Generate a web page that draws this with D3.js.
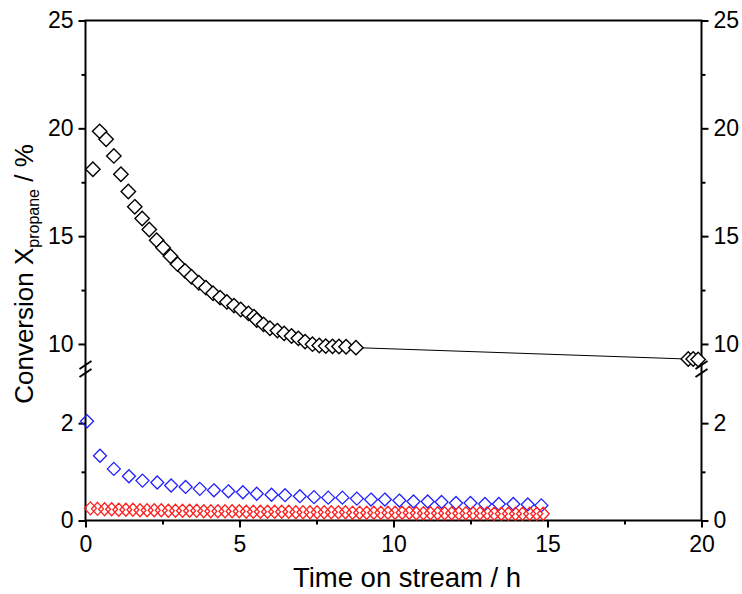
<!DOCTYPE html>
<html>
<head>
<meta charset="utf-8">
<script src="https://cdn.jsdelivr.net/npm/d3@7"></script>
<style>
  body { margin: 0; background: #fff; }
  text { font-family: "Liberation Sans", Arial, sans-serif; }
</style>
</head>
<body>
<script>
// black series (upper part of the broken axis)
const blackX = [0.24, 0.46, 0.67, 0.92, 1.15, 1.39, 1.60, 1.84, 2.07, 2.31, 2.52, 2.76, 2.99, 3.23, 3.44,
  3.68, 3.91, 4.14, 4.37, 4.59, 4.82, 5.04, 5.29, 5.47, 5.56, 5.78, 5.99, 6.23, 6.45, 6.69, 6.91, 7.13,
  7.37, 7.59, 7.80, 8.02, 8.23, 8.46, 8.78, 19.57, 19.73, 19.89];
const blackY = [18.10, 19.86, 19.49, 18.72, 17.87, 17.07, 16.36, 15.82, 15.31, 14.81, 14.46, 14.07, 13.70,
  13.39, 13.12, 12.84, 12.61, 12.35, 12.15, 11.95, 11.78, 11.60, 11.42, 11.26, 11.11, 10.91, 10.73, 10.62,
  10.49, 10.37, 10.26, 10.11, 9.99, 9.93, 9.90, 9.89, 9.88, 9.87, 9.83, 9.30, 9.30, 9.28];

// blue series
const blueX = [0.05, 0.47, 0.92, 1.41, 1.85, 2.33, 2.78, 3.25, 3.71, 4.17, 4.64, 5.11, 5.56, 6.04, 6.48,
  6.96, 7.42, 7.88, 8.34, 8.81, 9.27, 9.72, 10.19, 10.65, 11.11, 11.56, 12.03, 12.50, 12.97, 13.42,
  13.89, 14.36, 14.80];
const blueY = [2.04, 1.33, 1.06, 0.91, 0.82, 0.78, 0.72, 0.69, 0.65, 0.62, 0.60, 0.58, 0.55, 0.53, 0.52,
  0.50, 0.48, 0.47, 0.47, 0.45, 0.43, 0.43, 0.41, 0.39, 0.39, 0.38, 0.36, 0.36, 0.34, 0.34, 0.34, 0.33, 0.31];

// red series
const redX = [0.16, 0.39, 0.62, 0.85, 1.08, 1.31, 1.54, 1.77, 2.00, 2.23, 2.46, 2.69, 2.92, 3.15, 3.38,
  3.61, 3.84, 4.07, 4.30, 4.53, 4.76, 4.99, 5.22, 5.45, 5.68, 5.91, 6.14, 6.37, 6.60, 6.83, 7.06, 7.29,
  7.52, 7.75, 7.98, 8.21, 8.44, 8.67, 8.90, 9.13, 9.36, 9.59, 9.82, 10.05, 10.28, 10.51, 10.74, 10.97,
  11.20, 11.43, 11.66, 11.89, 12.12, 12.35, 12.58, 12.81, 13.04, 13.27, 13.50, 13.73, 13.96, 14.19,
  14.42, 14.65, 14.86];
const redY = [0.25, 0.24, 0.23, 0.23, 0.22, 0.22, 0.22, 0.21, 0.21, 0.21, 0.21, 0.20, 0.20, 0.20, 0.20,
  0.20, 0.19, 0.19, 0.19, 0.19, 0.19, 0.19, 0.18, 0.18, 0.18, 0.18, 0.18, 0.18, 0.18, 0.17, 0.17, 0.17,
  0.17, 0.17, 0.17, 0.17, 0.17, 0.16, 0.16, 0.16, 0.16, 0.16, 0.16, 0.16, 0.16, 0.16, 0.15, 0.15, 0.15,
  0.15, 0.15, 0.15, 0.15, 0.15, 0.15, 0.15, 0.15, 0.14, 0.14, 0.14, 0.14, 0.14, 0.14, 0.14, 0.14];

const xTicks = [0, 5, 10, 15, 20];
const xMinor = [2.5, 7.5, 12.5, 17.5];
const lowTicks = [0, 2];
const lowMinor = [1];
const highTicks = [10, 15, 20, 25];
const highMinor = [12.5, 17.5, 22.5];

const W = 742, H = 594;
const plotL = 85.5, plotR = 701.5, plotT = 20.5, plotB = 520.5;

const svg = d3.select("body").append("svg")
  .attr("width", W)
  .attr("height", H);

const x = d3.scaleLinear().domain([0, 20]).range([plotL, plotR]);
const yLow = d3.scaleLinear().domain([0, 3]).range([plotB, 374.5]);
const yHigh = d3.scaleLinear().domain([8.7, 25]).range([372, plotT]);

const tickFont = 23;

// axes, one segment at a time
function yAxes(scale, major, minor) {
  [[d3.axisLeft, plotL], [d3.axisRight, plotR]].forEach(([ax, pos]) => {
    const g = svg.append("g").attr("transform", `translate(${pos},0)`);
    g.call(ax(scale).tickValues(major).tickSize(7).tickPadding(5).tickFormat(d3.format("d")))
      .call(s => s.select(".domain").remove());
    g.selectAll(".tick line").attr("stroke-width", 2);
    g.selectAll(".tick text").attr("font-size", tickFont).attr("fill", "#000")
      .attr("font-family", "Liberation Sans, Arial, sans-serif");
    const gm = svg.append("g").attr("transform", `translate(${pos},0)`);
    gm.call(ax(scale).tickValues(minor).tickSize(4).tickFormat(""))
      .call(s => s.select(".domain").remove());
    gm.selectAll(".tick line").attr("stroke-width", 2);
  });
}
yAxes(yLow, lowTicks, lowMinor);
yAxes(yHigh, highTicks, highMinor);

const gx = svg.append("g").attr("transform", `translate(0,${plotB})`);
gx.call(d3.axisBottom(x).tickValues(xTicks).tickSize(7).tickPadding(8))
  .call(s => s.select(".domain").remove());
gx.selectAll(".tick line").attr("stroke-width", 2);
gx.selectAll(".tick text").attr("font-size", tickFont).attr("fill", "#000")
  .attr("font-family", "Liberation Sans, Arial, sans-serif");
const gxm = svg.append("g").attr("transform", `translate(0,${plotB})`);
gxm.call(d3.axisBottom(x).tickValues(xMinor).tickSize(4).tickFormat(""))
  .call(s => s.select(".domain").remove());
gxm.selectAll(".tick line").attr("stroke-width", 2);

// frame
svg.append("rect")
  .attr("x", plotL).attr("y", plotT)
  .attr("width", plotR - plotL).attr("height", plotB - plotT)
  .attr("fill", "none").attr("stroke", "#000").attr("stroke-width", 2);

// break marks
[plotL, plotR].forEach(px => {
  [365, 373].forEach(py => {
    svg.append("line")
      .attr("x1", px - 6).attr("y1", py + 4)
      .attr("x2", px + 6).attr("y2", py - 4)
      .attr("stroke", "#000").attr("stroke-width", 2);
  });
});

const diamond = (rx, ry) => `M0,${-ry}L${rx},0L0,${ry}L${-rx},0Z`;

// black: connecting line only across the gap in the measurement
const blackData = blackX.map((d, i) => ({x: d, y: blackY[i]}));
const gapIdx = blackData.findIndex((d, i) => i > 0 && d.x - blackData[i - 1].x > 2);
svg.append("path")
  .attr("d", d3.line().x(d => x(d.x)).y(d => yHigh(d.y))(blackData.slice(gapIdx - 1, gapIdx + 1)))
  .attr("fill", "none").attr("stroke", "#000").attr("stroke-width", 1);
svg.append("g").selectAll("path").data(blackData).join("path")
  .attr("transform", d => `translate(${x(d.x)},${yHigh(d.y)})`)
  .attr("d", diamond(7.2, 7.2))
  .attr("fill", "#fff").attr("stroke", "#000").attr("stroke-width", 1.4);

const blueData = blueX.map((d, i) => ({x: d, y: blueY[i]}));
svg.append("g").selectAll("path").data(blueData).join("path")
  .attr("transform", d => `translate(${x(d.x)},${yLow(d.y)})`)
  .attr("d", diamond(6.5, 6.5))
  .attr("fill", "none").attr("stroke", "#2020ff").attr("stroke-width", 1.3);

const redData = redX.map((d, i) => ({x: d, y: redY[i]}));
svg.append("g").selectAll("path").data(redData).join("path")
  .attr("transform", d => `translate(${x(d.x)},${yLow(d.y)})`)
  .attr("d", diamond(6, 6.5))
  .attr("fill", "none").attr("stroke", "#ff2020").attr("stroke-width", 1.3);

// axis titles
svg.append("text")
  .attr("x", 407).attr("y", 587)
  .attr("text-anchor", "middle").attr("font-size", 27.5)
  .text("Time on stream / h");

const yl = svg.append("text")
  .attr("transform", "translate(33,274) rotate(-90)")
  .attr("text-anchor", "middle").attr("font-size", 26);
yl.append("tspan").text("Conversion X");
yl.append("tspan").attr("font-size", 16).attr("dy", 6).text("propane");
yl.append("tspan").attr("dy", -6).text(" / %");
</script>
</body>
</html>
